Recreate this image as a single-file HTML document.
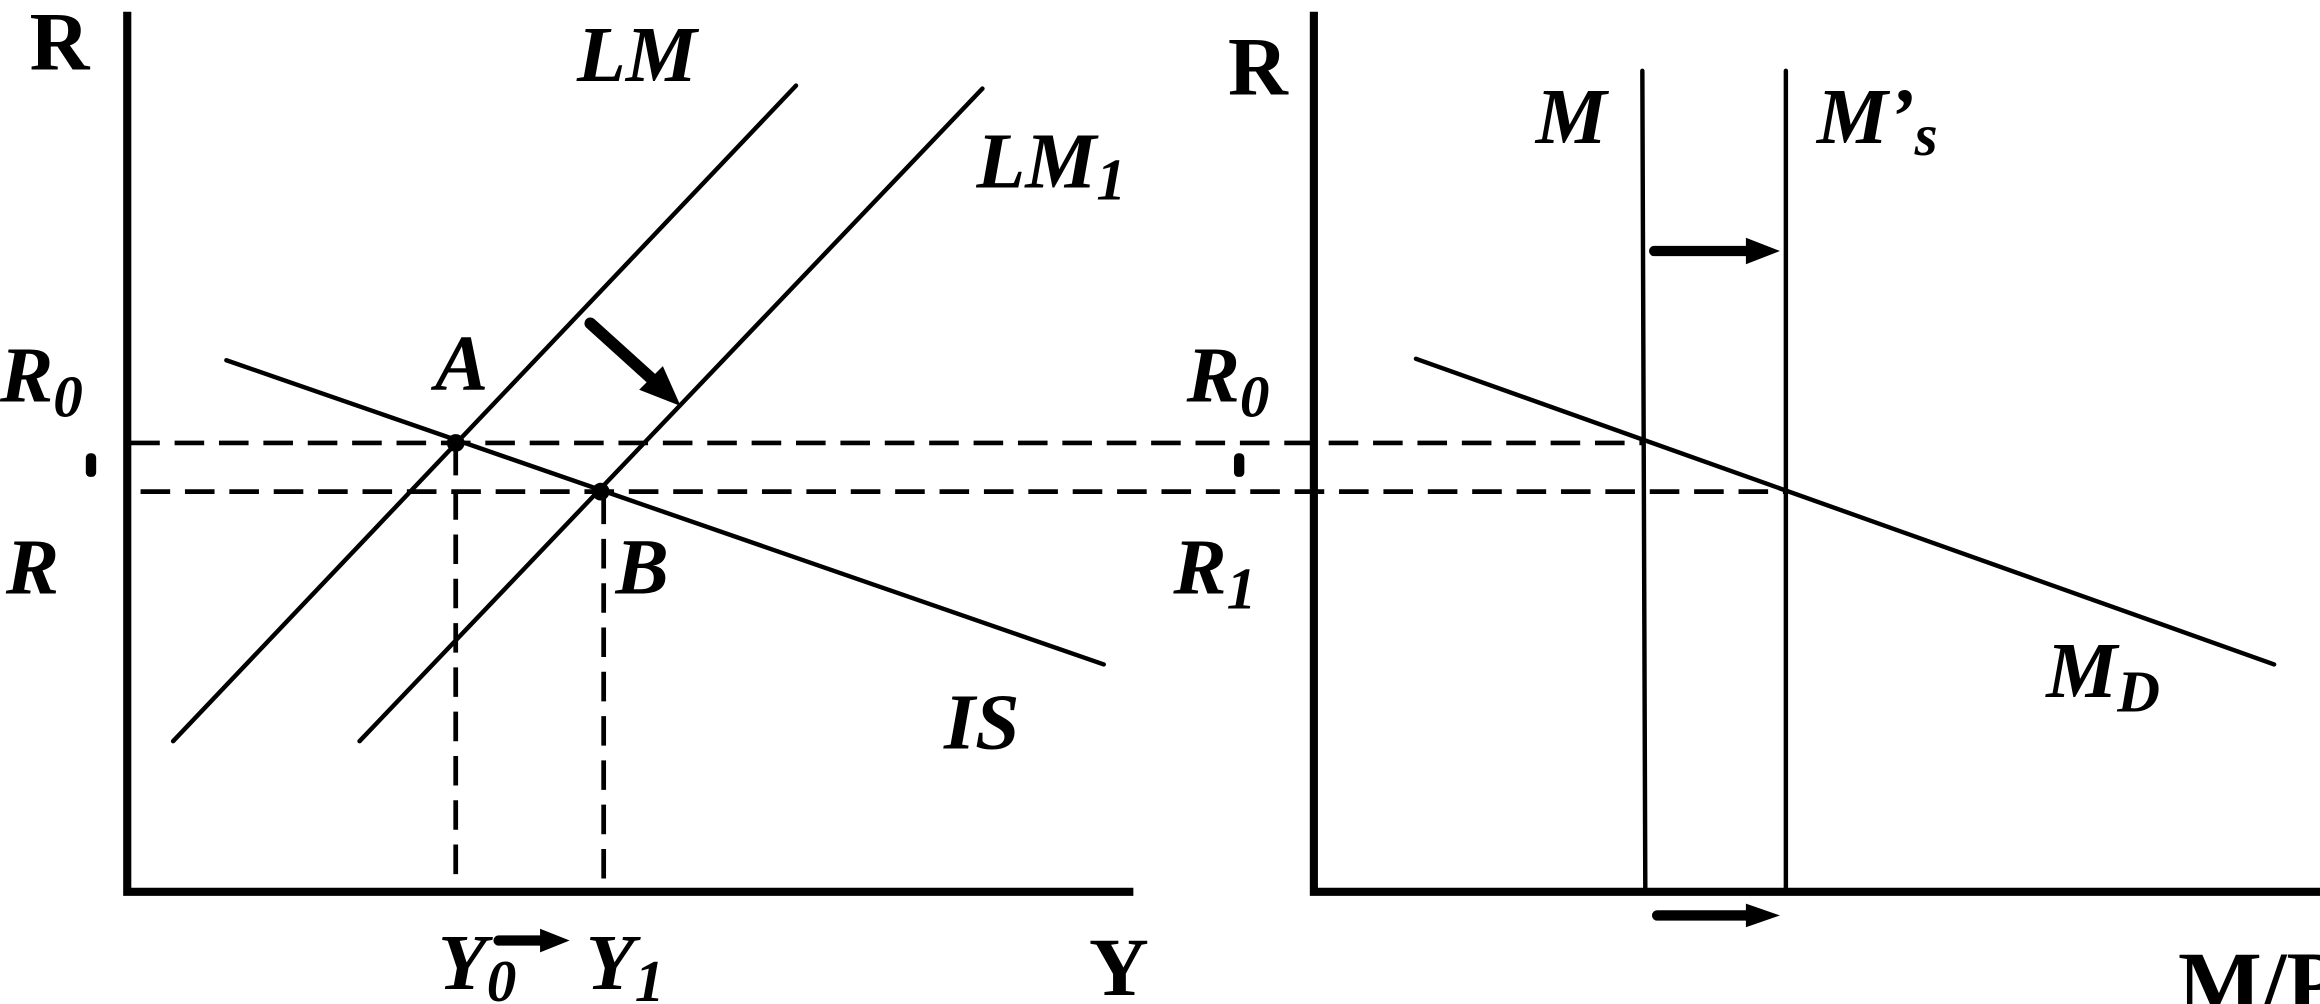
<!DOCTYPE html>
<html><head><style>html,body{margin:0;padding:0;background:#fff}svg{display:block}</style></head>
<body>
<svg width="2320" height="1004" viewBox="0 0 1568 680" preserveAspectRatio="none" xmlns="http://www.w3.org/2000/svg">
<rect width="1568" height="680" fill="#fff"/>
<g stroke="#000" fill="none" stroke-linecap="round">
<path d="M86 8 L86 604 L766 604" stroke-width="5.5" stroke-linecap="butt"/>
<line x1="117" y1="502" x2="538" y2="58" stroke-width="3"/>
<line x1="243" y1="502" x2="664" y2="60" stroke-width="3"/>
<line x1="153" y1="244" x2="746" y2="450" stroke-width="3"/>
<g stroke-width="3.2" stroke-dasharray="20 10" stroke-linecap="butt">
<line x1="88" y1="300" x2="1110" y2="300"/>
<line x1="95" y1="333" x2="1207" y2="333"/>
<line x1="308" y1="302" x2="308" y2="602"/>
<line x1="408" y1="335" x2="408" y2="602"/>
</g>
<line x1="399" y1="219" x2="442" y2="258" stroke-width="8"/>
<path d="M888 8 L888 604 L1568 604" stroke-width="5.5" stroke-linecap="butt"/>
<line x1="1110" y1="48" x2="1112" y2="602" stroke-width="3"/>
<line x1="1207" y1="48" x2="1207" y2="602" stroke-width="3"/>
<line x1="957" y1="243" x2="1537" y2="450" stroke-width="3"/>
<line x1="1118" y1="170" x2="1185" y2="170" stroke-width="7"/>
<line x1="1120" y1="620" x2="1185" y2="620" stroke-width="7"/>
<line x1="337" y1="637" x2="370" y2="637" stroke-width="7"/>
</g>
<g fill="#000">
<polygon points="432,264 448,248 460,275"/>
<polygon points="1180,161 1203,170 1180,179"/>
<polygon points="1180,612 1203,620 1180,628"/>
<polygon points="365,629 385,637 365,645"/>
<circle cx="308" cy="300" r="6"/>
<circle cx="406" cy="333" r="6"/>
<rect x="58" y="307" width="7" height="16" rx="3"/>
<rect x="834" y="307" width="7" height="16" rx="3"/>
</g>
<g font-family="Liberation Serif, serif" font-weight="bold" fill="#000">
<text x="20" y="47" font-size="56">R</text>
<text x="736" y="674" font-size="56">Y</text>
<text x="830" y="64" font-size="56">R</text>
<text x="1472" y="686" font-size="60">M/P</text>
<g font-style="italic" font-size="54">
<text x="390" y="55">LM</text>
<text x="660" y="127">LM<tspan font-size="40" dy="8">1</tspan></text>
<text x="0" y="272">R<tspan font-size="40" dy="10">0</tspan></text>
<text x="4" y="402">R</text>
<text x="294" y="264">A</text>
<text x="416" y="402">B</text>
<text x="638" y="507">IS</text>
<text x="296" y="670">Y<tspan font-size="40" dy="8">0</tspan></text>
<text x="396" y="670">Y<tspan font-size="40" dy="8">1</tspan></text>
<text x="802" y="272">R<tspan font-size="40" dy="10">0</tspan></text>
<text x="793" y="402">R<tspan font-size="40" dy="10">1</tspan></text>
<text x="1038" y="97">M</text>
<text x="1228" y="97">M’<tspan font-size="40" dy="8">s</tspan></text>
<text x="1383" y="472">M<tspan font-size="40" dy="10">D</tspan></text>
</g>
</g>
</svg>
</body></html>
